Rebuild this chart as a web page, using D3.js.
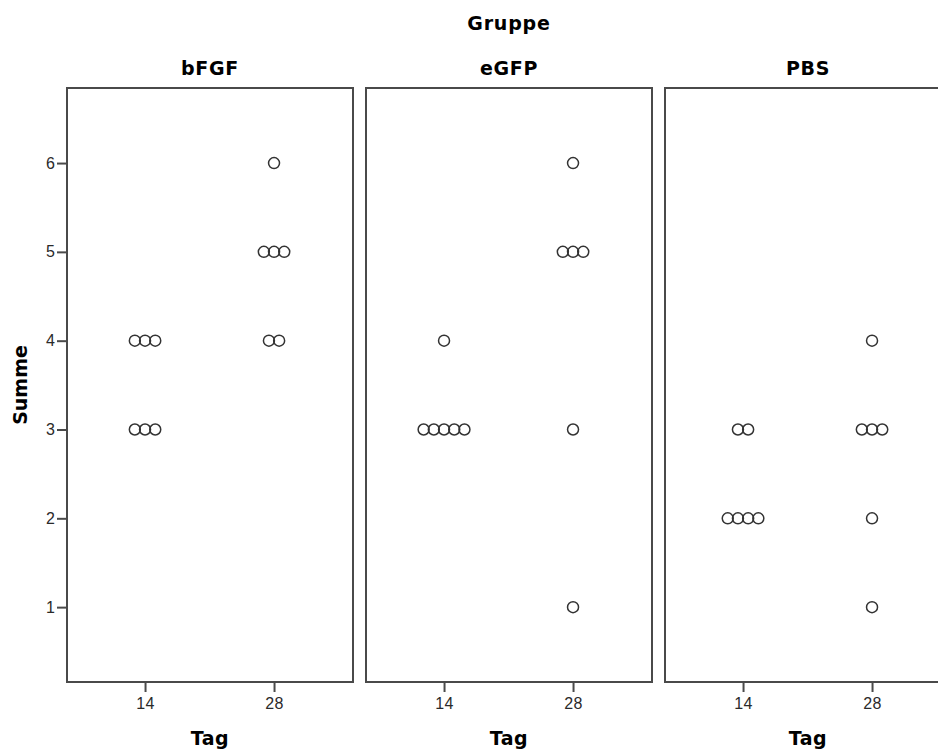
<!DOCTYPE html>
<html><head><meta charset="utf-8">
<script src="https://cdn.jsdelivr.net/npm/d3@7"></script>
<style>body{margin:0;background:#fff;} svg{display:block;}</style>
</head><body>
<div id="chart"></div>
<script>
const groups = ["bFGF", "eGFP", "PBS"];
const days = [14, 28];
const yTicks = [1, 2, 3, 4, 5, 6];
// Summe values per group and day (individual observations)
const bFGF_14 = [4, 4, 4, 3, 3, 3];
const bFGF_28 = [6, 5, 5, 5, 4, 4];
const eGFP_14 = [4, 3, 3, 3, 3, 3];
const eGFP_28 = [6, 5, 5, 5, 3, 1];
const PBS_14 = [3, 3, 2, 2, 2, 2];
const PBS_28 = [4, 3, 3, 3, 2, 1];
const values = {bFGF: [bFGF_14, bFGF_28], eGFP: [eGFP_14, eGFP_28], PBS: [PBS_14, PBS_28]};

(function () {
const W = 938, H = 751;
const svg = d3.select("#chart").append("svg").attr("width", W).attr("height", H);

const plotTop = 88, plotBottom = 682, left0 = 67, pw = 286, gap = 13;
const y = d3.scaleLinear().domain([0.157, 6.845]).range([plotBottom, plotTop]);
const fx = d3.scaleBand().domain(groups).range([left0, left0 + 3 * pw + 2 * gap]).paddingInner(gap / (pw + gap)).paddingOuter(0);
const x = d3.scaleLinear().domain([5.53, 36.57]).range([0, pw]);
const frame = "#4a4a4a";
const dotStep = 10.2;
const boldFont = "'DejaVu Sans', Verdana, sans-serif";
const tickFont = "'Liberation Sans', Arial, sans-serif";

svg.append("text").attr("x", left0 + (3 * pw + 2 * gap) / 2).attr("y", 30).attr("text-anchor", "middle")
  .attr("font-family", boldFont).attr("font-weight", "bold").attr("font-size", 19).attr("letter-spacing", 0.8)
  .attr("fill", "#000").text("Gruppe");

svg.append("text").attr("transform", `translate(26.5,${(plotTop + plotBottom) / 2}) rotate(-90)`).attr("text-anchor", "middle")
  .attr("font-family", boldFont).attr("font-weight", "bold").attr("font-size", 19).attr("fill", "#000").text("Summe");

const yAxis = svg.append("g").attr("transform", `translate(${left0},0)`)
  .call(d3.axisLeft(y).tickValues(yTicks).tickSize(10).tickPadding(2).tickFormat(d3.format("d")));
yAxis.select(".domain").remove();
yAxis.selectAll("line").attr("stroke", frame).attr("stroke-width", 2);
yAxis.selectAll("text").attr("font-size", 16).attr("fill", "#2a2a2a").attr("font-family", tickFont);

groups.forEach(g => {
  const gx = fx(g);
  const p = svg.append("g").attr("transform", `translate(${gx},0)`);
  p.append("text").attr("x", pw / 2).attr("y", 75).attr("text-anchor", "middle")
    .attr("font-family", boldFont).attr("font-weight", "bold").attr("font-size", 19).attr("letter-spacing", 0.7)
    .attr("fill", "#000").text(g);
  const xa = p.append("g").attr("transform", `translate(0,${plotBottom})`)
    .call(d3.axisBottom(x).tickValues(days).tickSize(10).tickPadding(6).tickFormat(d3.format("d")));
  xa.select(".domain").remove();
  xa.selectAll("line").attr("stroke", frame).attr("stroke-width", 2);
  xa.selectAll("text").attr("font-size", 16).attr("letter-spacing", 0.5).attr("fill", "#2a2a2a").attr("font-family", tickFont);
  p.append("rect").attr("x", 0).attr("y", plotTop).attr("width", pw).attr("height", plotBottom - plotTop)
    .attr("fill", "none").attr("stroke", frame).attr("stroke-width", 2);
  p.append("text").attr("x", pw / 2).attr("y", 745).attr("text-anchor", "middle")
    .attr("font-family", boldFont).attr("font-weight", "bold").attr("font-size", 19).attr("letter-spacing", 0.5)
    .attr("fill", "#000").text("Tag");
  days.forEach((d, i) => {
    const vals = values[g][i];
    const counts = d3.rollup(vals, v => v.length, v => v);
    const pts = [];
    counts.forEach((n, v) => { for (let k = 0; k < n; k++) pts.push({v, off: (k - (n - 1) / 2) * dotStep}); });
    p.selectAll(null).data(pts).enter().append("circle")
      .attr("cx", q => x(d) + q.off).attr("cy", q => y(q.v)).attr("r", 5.5)
      .attr("fill", "none").attr("stroke", "#333").attr("stroke-width", 1.5);
  });
});
})();
</script>
</body></html>
